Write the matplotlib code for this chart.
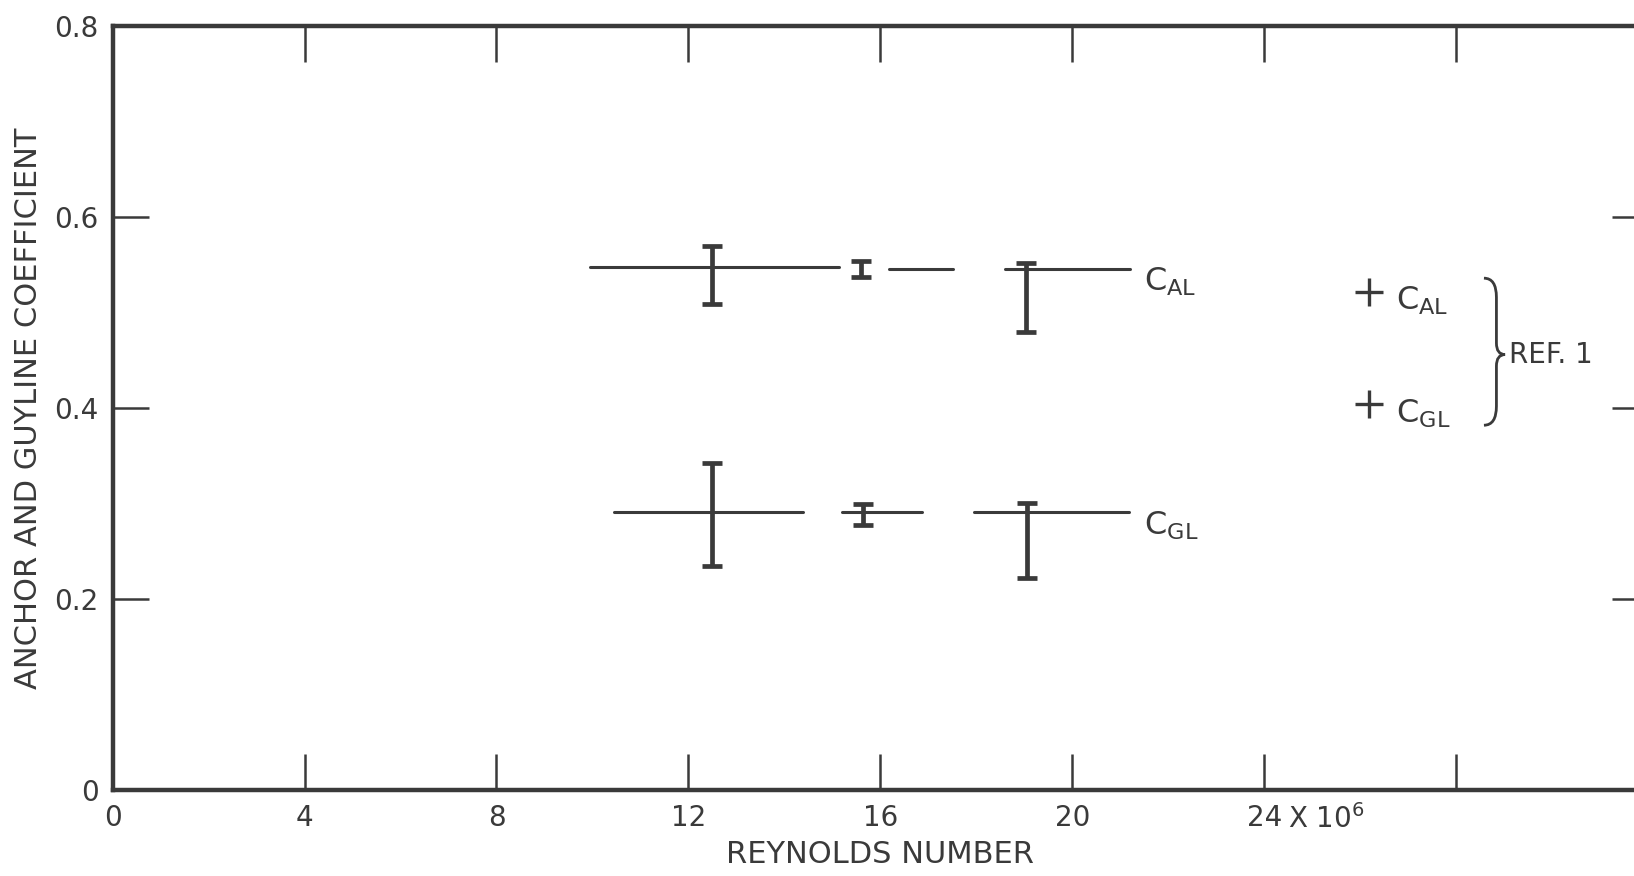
import numpy as np
import matplotlib.pyplot as plt
from matplotlib.path import Path
from matplotlib.patches import PathPatch

plt.rcParams['font.family'] = ['DejaVu Sans']
ink = '#3a3a3a'

# C_AL : horizontal segments (x start, x end, level) and error bars
cal_seg_x0 = [9.96, 16.19, 18.60]
cal_seg_x1 = [15.14, 17.52, 21.20]
cal_seg_y = [0.548, 0.546, 0.546]
cal_bar_x = [12.5, 15.6, 19.04]
cal_bar_lo = [0.509, 0.537, 0.480]
cal_bar_hi = [0.570, 0.554, 0.552]

# C_GL
cgl_seg_x0 = [10.46, 15.20, 17.95]
cgl_seg_x1 = [14.38, 16.86, 21.18]
cgl_seg_y = [0.291, 0.291, 0.291]
cgl_bar_x = [12.5, 15.64, 19.06]
cgl_bar_lo = [0.235, 0.278, 0.222]
cgl_bar_hi = [0.342, 0.300, 0.301]

# REF. 1 points
ref_x = [26.19, 26.19]
ref_y = [0.522, 0.404]
ref_lab = ['$\\mathregular{C_{AL}}$', '$\\mathregular{C_{GL}}$']

xticks = [0, 4, 8, 12, 16, 20, 24, 28]
xlabels = ['0', '4', '8', '12', '16', '20', '24', '']
yticks = [0, 0.2, 0.4, 0.6, 0.8]
ylabels = ['0', '0.2', '0.4', '0.6', '0.8']

fig = plt.figure(figsize=(16.34, 8.76), dpi=100)
ax = fig.add_axes([0.0689, 0.0982, 0.9397, 0.872])
ax.set_xlim(0, 32)
ax.set_ylim(0, 0.8)

def draw_series(x0, x1, ys, bx, lo, hi, label):
    for a, b, y in zip(x0, x1, ys):
        ax.plot([a, b], [y, y], color=ink, lw=2.2, solid_capstyle='round')
    yc = np.interp(bx, [(a + b) / 2 for a, b in zip(x0, x1)], ys)
    ax.errorbar(bx, yc, yerr=[yc - np.array(lo), np.array(hi) - yc],
                fmt='none', ecolor=ink, elinewidth=3.4, capsize=7, capthick=3.4)
    ax.text(21.5, ys[-1] - 0.014, label, fontsize=23, color=ink,
            ha='left', va='center')

draw_series(cal_seg_x0, cal_seg_x1, cal_seg_y, cal_bar_x, cal_bar_lo, cal_bar_hi,
            '$\\mathregular{C_{AL}}$')
draw_series(cgl_seg_x0, cgl_seg_x1, cgl_seg_y, cgl_bar_x, cgl_bar_lo, cgl_bar_hi,
            '$\\mathregular{C_{GL}}$')

ax.plot(ref_x, ref_y, '+', color=ink, ms=20, mew=2.4)
for x, y, s in zip(ref_x, ref_y, ref_lab):
    ax.text(x + 0.55, y - 0.01, s, fontsize=23, color=ink, ha='left', va='center')

# brace
bx0, bx1, bx2 = 28.58, 28.84, 29.02
yt, ym, yb = 0.536, 0.456, 0.382
verts = [(bx0, yt), (bx1, yt), (bx1, yt - 0.02),
         (bx1, ym + 0.012), (bx1, ym), (bx2, ym),
         (bx1, ym), (bx1, ym - 0.012),
         (bx1, yb + 0.02), (bx1, yb), (bx0, yb)]
codes = [Path.MOVETO, Path.CURVE3, Path.CURVE3,
         Path.LINETO, Path.CURVE3, Path.CURVE3,
         Path.CURVE3, Path.CURVE3,
         Path.LINETO, Path.CURVE3, Path.CURVE3]
ax.add_patch(PathPatch(Path(verts, codes), fill=False, ec=ink, lw=2))
ax.text(29.1, ym, 'REF. 1', fontsize=20, color=ink, ha='left', va='center')

ax.set_xticks(xticks)
ax.set_xticklabels(xlabels)
ax.set_yticks(yticks)
ax.set_yticklabels(ylabels)
ax.tick_params(direction='in', top=True, right=True, length=26, width=1.8,
               color=ink, labelcolor=ink, labelsize=20)
ax.tick_params(axis='x', pad=10)
ax.tick_params(axis='y', pad=10)
ax.text(24.5, -0.015, 'X 10$^{6}$', fontsize=20, color=ink, ha='left', va='top')

for s in ax.spines.values():
    s.set_linewidth(3.2)
    s.set_color(ink)

ax.set_xlabel('REYNOLDS NUMBER', fontsize=22, color=ink, labelpad=6)
ax.set_ylabel('ANCHOR AND GUYLINE COEFFICIENT', fontsize=22, color=ink, labelpad=8)

fig.savefig('out.png', dpi=100)
